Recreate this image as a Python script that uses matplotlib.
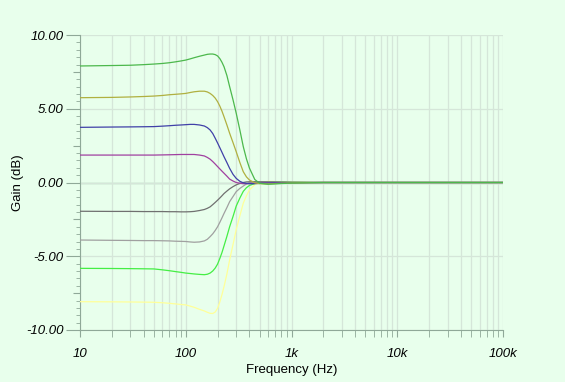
import numpy as np
import matplotlib
matplotlib.use("Agg")
from matplotlib import pyplot as plt
from matplotlib.ticker import LogLocator, MultipleLocator, FixedLocator, NullFormatter

plt.rcParams['font.family'] = ['Liberation Sans', 'DejaVu Sans']

freq = [10, 20, 30, 40, 50, 60, 70, 80, 90, 100,
        110, 120, 135, 150, 160, 170, 180, 190, 200, 210,
        220, 230, 245, 260, 280, 300, 325, 350, 375, 400,
        450, 500, 600, 800, 1000, 2000, 100000]

gain_p8 = [7.9, 7.93, 7.95, 7.99, 8.03, 8.07, 8.12, 8.18, 8.24, 8.3,
           8.38, 8.46, 8.56, 8.64, 8.69, 8.71, 8.71, 8.67, 8.58, 8.4,
           8.15, 7.85, 7.25, 6.5, 5.6, 4.7, 3.55, 2.43, 1.6, 0.98,
           0.2, -0.05, -0.12, -0.07, -0.04, 0.0, 0.0]
gain_p6 = [5.75, 5.77, 5.8, 5.83, 5.86, 5.9, 5.95, 5.98, 6.01, 6.04,
           6.1, 6.15, 6.19, 6.19, 6.14, 6.04, 5.9, 5.72, 5.48, 5.18,
           4.84, 4.46, 3.9, 3.34, 2.7, 2.09, 1.35, 0.73, 0.38, 0.17,
           -0.02, -0.08, -0.1, -0.05, -0.03, 0.0, 0.0]
gain_p4 = [3.74, 3.76, 3.77, 3.78, 3.79, 3.82, 3.85, 3.88, 3.9, 3.92,
           3.94, 3.94, 3.9, 3.83, 3.72, 3.56, 3.32, 3.0, 2.68, 2.36,
           2.05, 1.75, 1.35, 0.96, 0.55, 0.28, 0.08, -0.02, -0.06, -0.08,
           -0.08, -0.06, -0.04, -0.03, -0.02, 0.0, 0.0]
gain_p2 = [1.86, 1.86, 1.86, 1.86, 1.86, 1.87, 1.88, 1.89, 1.9, 1.9,
           1.9, 1.9, 1.86, 1.8, 1.7, 1.58, 1.42, 1.25, 1.08, 0.92,
           0.77, 0.63, 0.43, 0.23, 0.1, 0.0, -0.05, -0.08, -0.08, -0.07,
           -0.05, -0.04, -0.03, -0.02, -0.01, 0.0, 0.0]
gain_m2 = [-1.95, -1.96, -1.96, -1.97, -1.97, -1.97, -1.98, -1.98, -1.99, -1.99,
           -1.98, -1.96, -1.9, -1.83, -1.75, -1.65, -1.5, -1.35, -1.2, -1.05,
           -0.9, -0.75, -0.58, -0.43, -0.28, -0.16, -0.06, 0.0, 0.04, 0.05,
           0.05, 0.04, 0.03, 0.02, 0.01, 0.0, 0.0]
gain_m4 = [-3.9, -3.92, -3.93, -3.94, -3.94, -3.95, -3.96, -3.98, -3.99, -4.0,
           -4.03, -4.05, -4.03, -3.96, -3.85, -3.67, -3.48, -3.25, -3.0, -2.7,
           -2.4, -2.1, -1.7, -1.3, -0.95, -0.62, -0.4, -0.24, -0.1, 0.0,
           0.05, 0.06, 0.05, 0.03, 0.02, 0.0, 0.0]
gain_m6 = [-5.82, -5.83, -5.84, -5.85, -5.86, -5.92, -5.98, -6.04, -6.09, -6.14,
           -6.17, -6.2, -6.23, -6.25, -6.22, -6.14, -6.0, -5.8, -5.53, -5.15,
           -4.75, -4.3, -3.65, -3.0, -2.3, -1.6, -1.05, -0.6, -0.35, -0.2,
           -0.07, 0.0, 0.05, 0.04, 0.02, 0.0, 0.0]
gain_m8 = [-8.08, -8.09, -8.1, -8.11, -8.12, -8.15, -8.19, -8.23, -8.27, -8.3,
           -8.38, -8.46, -8.6, -8.71, -8.8, -8.87, -8.88, -8.78, -8.53, -8.1,
           -7.6, -7.06, -6.2, -5.25, -4.2, -3.2, -2.25, -1.4, -0.9, -0.5,
           -0.15, 0.0, 0.08, 0.05, 0.03, 0.0, 0.0]

series = [
    (gain_m8, "#ffff99"),
    (gain_m6, "#44ee44"),
    (gain_m4, "#a0a0a0"),
    (gain_m2, "#707070"),
    (gain_p2, "#a040a0"),
    (gain_p4, "#4040a8"),
    (gain_p6, "#b0b040"),
    (gain_p8, "#4cb84c"),
]

bg = "#e8ffec"
grid_col = "#d5e6d9"
axis_col = "#8fa898"
fs = 9.5

fig = plt.figure(figsize=(5.65, 3.82), dpi=100, facecolor=bg)
ax = fig.add_axes([80 / 565, 52 / 382, 423 / 565, 295 / 382])
ax.set_facecolor(bg)

ax.set_xscale("log")
ax.set_xlim(10, 100000)
ax.set_ylim(-10, 10)

# grid
ax.xaxis.set_major_locator(LogLocator(base=10))
ax.xaxis.set_minor_locator(LogLocator(base=10, subs=np.arange(2, 10)))
ax.xaxis.set_minor_formatter(NullFormatter())
ax.yaxis.set_major_locator(MultipleLocator(5))
ax.yaxis.set_minor_locator(MultipleLocator(0.5))
ax.grid(True, which="both", axis="x", color=grid_col, lw=0.9)
ax.grid(True, which="major", axis="y", color=grid_col, lw=0.9)
ax.axhline(0, color="#a9c8b2", lw=1, zorder=1)

for g, c in series:
    ax.plot(freq, g, color=c, lw=0.9, zorder=3)

for s in ["top", "right"]:
    ax.spines[s].set_visible(False)
for s in ["left", "bottom"]:
    ax.spines[s].set_color(axis_col)

ax.set_xticks([10, 100, 1000, 10000, 100000])
ax.set_xticklabels(["10", "100", "1k", "10k", "100k"], fontstyle="italic", fontsize=fs)
ax.set_yticks([-10, -5, 0, 5, 10])
ax.set_yticklabels(["-10.00", "-5.00", "0.00", "5.00", "10.00"], fontstyle="italic", fontsize=fs)

ax.tick_params(axis="x", which="both", direction="out", length=5, color=axis_col, pad=8)
ax.tick_params(axis="y", which="major", direction="out", length=10, color=axis_col, pad=2)
ax.tick_params(axis="y", which="minor", direction="out", length=3, color=axis_col)

# medium ticks at 2.5 dB steps
sec = ax.secondary_yaxis("left")
sec.set_yticks([-7.5, -2.5, 2.5, 7.5])
sec.set_yticklabels([])
sec.tick_params(axis="y", direction="out", length=5, color=axis_col)
sec.yaxis.set_minor_locator(FixedLocator([]))
sec.spines["left"].set_visible(False)

ax.set_xlabel("Frequency (Hz)", fontsize=fs, labelpad=3)
ax.set_ylabel("Gain (dB)", fontsize=fs, labelpad=1)

fig.savefig("out.png", dpi=100, facecolor=bg)
